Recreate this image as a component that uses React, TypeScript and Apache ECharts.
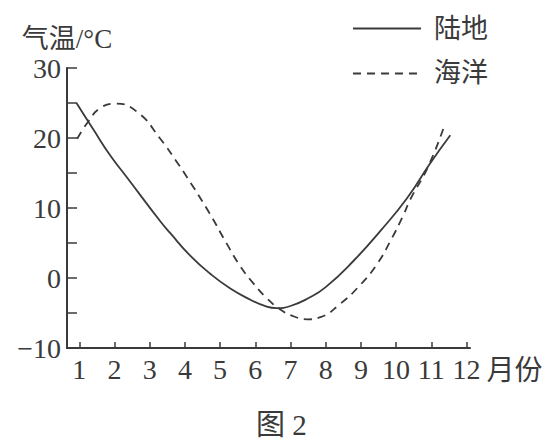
import React, { useEffect, useRef } from "react";
import * as echarts from "echarts";

const monthTicks = [1, 2, 3, 4, 5, 6, 7, 8, 9, 10, 11, 12];
const landData: [number, number][] = [
  [0.92, 25], [1.4, 21.2], [1.88, 17.5], [2.35, 14.4], [3.3, 8.1], [3.585, 6.4],
  [4.15, 3.2], [4.72, 0.6], [5.29, -1.5], [5.86, -3.1], [6.25, -3.95], [6.6, -4.3],
  [7.0, -4.0], [7.5, -2.9], [8.0, -1.3], [8.8, 2.5], [9.55, 6.7], [10.31, 11.4],
  [10.97, 16.4], [11.54, 20.4],
];
const oceanData: [number, number][] = [
  [0.94, 19.9], [1.26, 22.4], [1.6, 24.3], [2.02, 24.9], [2.65, 23.7], [3.3, 19.9],
  [3.78, 16.5], [4.06, 14.4], [4.67, 9.5], [5.2, 4.8], [5.57, 1.7], [5.95, -0.8],
  [6.33, -2.9], [6.71, -4.5], [7.1, -5.5], [7.48, -5.9], [7.85, -5.6], [8.41, -3.7],
  [8.98, -1.0], [9.46, 2.0], [9.84, 5.3], [10.21, 9.0], [10.4, 11.2], [10.9, 15.8],
  [11.34, 21.3],
];
const seriesNames = ["陆地", "海洋"];
const yAxisName = "气温/°C";
const xAxisName = "月份";
const caption = "图 2";

const serif = "'Liberation Serif', 'Times New Roman', 'Noto Sans CJK SC', serif";
const ink = "#3a3a3a";

export default function App() {
  const ref = useRef<HTMLDivElement>(null);
  useEffect(() => {
    document.body.style.margin = "0";
    const chart = echarts.init(ref.current!, null, { renderer: "svg" });
    chart.setOption({
      animation: false,
      backgroundColor: "#ffffff",
      title: {
        text: caption,
        left: 251,
        top: 405,
        textStyle: { fontFamily: serif, fontSize: 29, fontWeight: "normal", color: ink },
      },
      legend: {
        orient: "vertical",
        left: 352,
        top: 15,
        padding: 0,
        itemWidth: 68,
        itemHeight: 14,
        itemGap: 18,
        data: seriesNames,
        itemStyle: { opacity: 0 },
        textStyle: { fontFamily: serif, fontSize: 27, color: ink, padding: [0, 0, 0, 8] },
      },
      grid: { left: 67, right: 84, top: 68, bottom: 96, containLabel: false },
      xAxis: {
        type: "value",
        min: 0.65,
        max: 12.1,
        name: xAxisName,
        nameLocation: "end",
        nameGap: 16,
        nameTextStyle: { fontFamily: serif, fontSize: 28, color: ink, verticalAlign: "top", padding: [8, 0, 0, 0] },
        axisLine: { show: true, onZero: false, lineStyle: { color: ink, width: 2 } },
        axisTick: { show: true, inside: true, length: 6, customValues: monthTicks, lineStyle: { color: ink, width: 1.5 } },
        axisLabel: { customValues: monthTicks, fontFamily: serif, fontSize: 28, color: ink, margin: 7 },
        splitLine: { show: false },
      },
      yAxis: {
        type: "value",
        min: -10,
        max: 30,
        interval: 5,
        name: yAxisName,
        nameLocation: "end",
        nameGap: 16,
        nameTextStyle: { fontFamily: serif, fontSize: 27, color: ink },
        axisLine: { show: true, lineStyle: { color: ink, width: 2 } },
        axisTick: { show: true, inside: true, length: 10, lineStyle: { color: ink, width: 1.5 } },
        axisLabel: {
          fontFamily: serif,
          fontSize: 28,
          color: ink,
          margin: 6,
          formatter: (v: number) => (v % 10 === 0 ? String(v).replace("-", "−") : ""),
        },
        splitLine: { show: false },
      },
      series: [
        {
          name: seriesNames[0],
          type: "line",
          data: landData,
          smooth: 0.5,
          symbol: "none",
          lineStyle: { color: ink, width: 1.8, type: "solid" },
          itemStyle: { color: ink },
        },
        {
          name: seriesNames[1],
          type: "line",
          data: oceanData,
          smooth: 0.5,
          symbol: "none",
          lineStyle: { color: ink, width: 1.8, type: [8, 6] },
          itemStyle: { color: ink },
        },
      ],
    });
    return () => chart.dispose();
  }, []);
  return <div ref={ref} style={{ width: 554, height: 444 }} />;
}
